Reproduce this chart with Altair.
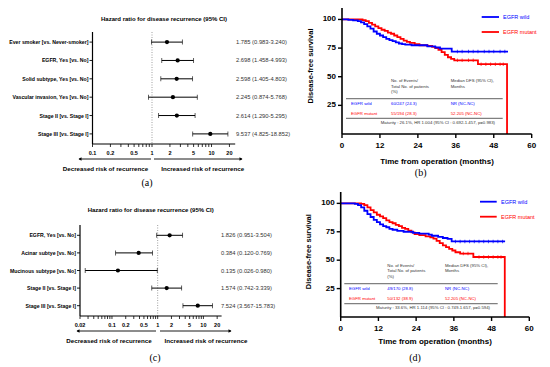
import altair as alt
import pandas as pd

W, H = 534, 359
FONT = "Liberation Sans"
BLUE = "#0000ff"
RED = "#ff0000"

# ---------------- data: forest plot (a) ----------------
a_labels = ["Ever smoker [vs. Never-smoker]", "EGFR, Yes [vs. No]", "Solid subtype, Yes [vs. No]",
            "Vascular invasion, Yes [vs. No]", "Stage II [vs. Stage I]", "Stage III [vs. Stage I]"]
a_hr = [1.785, 2.698, 2.598, 2.245, 2.614, 9.537]
a_lo = [0.983, 1.458, 1.405, 0.874, 1.290, 4.825]
a_hi = [3.240, 4.993, 4.803, 5.768, 5.295, 18.852]
a_ticks = [0.1, 0.2, 0.3, 0.4, 0.5, 0.6, 0.7, 0.8, 0.9, 1, 2, 3, 4, 5, 6, 7, 8, 9, 10, 20]
a_tick_labels = [0.1, 0.2, 0.5, 1, 2, 5, 10, 20]

# ---------------- data: forest plot (c) ----------------
c_labels = ["EGFR, Yes [vs. No]", "Acinar subtye [vs. No]", "Mucinous subtype [vs. No]",
            "Stage II [vs. Stage I]", "Stage III [vs. Stage I]"]
c_hr = [1.826, 0.384, 0.135, 1.574, 7.524]
c_lo = [0.951, 0.120, 0.026, 0.742, 3.567]
c_hi = [3.504, 0.769, 0.980, 3.339, 15.783]
c_ticks = [0.02, 0.03, 0.04, 0.05, 0.06, 0.07, 0.08, 0.09, 0.1, 0.2, 0.3, 0.4, 0.5, 0.6, 0.7, 0.8,
           0.9, 1, 2, 3, 4, 5, 6, 7, 8, 9, 10, 20]
c_tick_labels = [0.02, 0.1, 0.2, 0.5, 1, 2, 5, 10, 20]

# ---------------- data: KM (b) ----------------
b_wild_t = [0, 2, 3.5, 5, 6, 7, 8, 9, 10, 11, 12, 13, 14, 15, 16, 17, 18, 19, 20, 22, 27, 29.5, 31, 34.7, 52.5]
b_wild_s = [100, 99.6, 99.2, 98.5, 97.5, 96, 94, 92, 89.5, 87.5, 86, 84.5, 83, 82, 81, 80, 79, 78.5, 78,
            77.5, 76.5, 75.5, 74.5, 72, 72]
b_mut_t = [0, 6.5, 7.5, 8.5, 9.5, 10.5, 11.5, 12.5, 13.5, 14.5, 15.5, 16.5, 17.5, 18.5, 19.5, 20.5, 21.5,
           23, 24.5, 27, 28.5, 29.5, 30.5, 31.5, 32.5, 33.5, 34.5, 35.5, 43, 52.2, 52.2]
b_mut_s = [100, 99.5, 98.5, 97, 95.5, 94, 92.5, 91, 90, 88.5, 87.5, 86, 84.5, 83, 81.5, 80.5, 79.5, 78.5,
           77.5, 77, 76, 75, 73.5, 71.5, 69, 67, 65.5, 64.3, 61, 61, 0]
b_wild_cens_t = [36.5, 38, 40, 41.5, 43, 45, 46.5, 48, 50, 51.5]
b_wild_cens_s = [72, 72, 72, 72, 72, 72, 72, 72, 72, 72]
b_mut_cens_t = [36.5, 38, 40, 41.5, 44, 45.5, 47, 48.5, 50, 51]
b_mut_cens_s = [64.3, 64.3, 64.3, 64.3, 61, 61, 61, 61, 61, 61]
b_rows = [["EGFR wild", "60/247 (24.3)", "NR (NC-NC)"],
          ["EGFR mutant", "55/194 (28.3)", "52.205 (NC-NC)"]]
b_maturity = "Maturity : 26.1%, HR 1.004 (95% CI : 0.692-1.457, p=0.983)"

# ---------------- data: KM (d) ----------------
d_wild_t = [0, 4.5, 5.5, 6.5, 7.5, 8.5, 9.5, 10.5, 11.5, 12.5, 13.5, 14.5, 15.5, 16.5, 18, 20, 23, 25, 28,
            29, 31, 32.5, 34, 35.3, 52.3]
d_wild_s = [100, 99.5, 98.5, 96.5, 93.5, 90.5, 88, 85.5, 83.5, 81.5, 80, 79, 77.5, 76.8, 75.8, 75, 74, 73.3,
            72.5, 71.5, 70.5, 69.5, 68.8, 66.5, 66.5]
d_mut_t = [0, 6.5, 7.5, 8.5, 9.5, 10.5, 11.5, 12.5, 13.5, 14.5, 15.5, 16.5, 17.5, 18.5, 19.5, 20.5, 21.5,
           22.5, 23.5, 25, 27, 28.5, 29.5, 30.5, 31.5, 32.5, 33.5, 34.5, 35.5, 36.5, 38, 42.2, 52.2, 52.2]
d_mut_s = [100, 99.5, 98.5, 96.5, 94, 92, 90, 88.5, 87, 85, 83.5, 82.5, 81, 80, 78.5, 77.5, 76, 74.5, 73,
           72, 71, 70, 69, 67, 65, 63, 61.5, 60, 58.5, 57, 55.8, 52.8, 52.8, 0]
d_wild_cens_t = [36.5, 38, 39.5, 41, 42.5, 44, 45.5, 47, 48.5, 50, 51.5]
d_wild_cens_s = [66.5] * 11
d_mut_cens_t = [39, 40.5, 44, 45.5, 47, 48.5, 50, 51]
d_mut_cens_s = [55.8, 55.8, 52.8, 52.8, 52.8, 52.8, 52.8, 52.8]
d_rows = [["EGFR wild", "49/170 (28.8)", "NR (NC-NC)"],
          ["EGFR mutant", "50/132 (38.9)", "52.205 (NC-NC)"]]
d_maturity = "Maturity : 33.6%, HR 1.114 (95% CI : 0.749-1.657, p=0.594)"

km_xticks = [0, 12, 24, 36, 48, 60]
km_yticks = [25, 50, 75, 100]

DUMMY = pd.DataFrame({"k": [0]})


def txt(text, x, y, size, weight="normal", color="black", align="center", font=FONT, baseline="middle", angle=0):
    return alt.Chart(DUMMY).mark_text(text=text, fontSize=size, fontWeight=weight, color=color, angle=angle,
                                      align=align, baseline=baseline, font=font).encode(
        x=alt.value(x), y=alt.value(y))


def hline(x1, x2, y, color="black", width=1.0):
    return alt.Chart(DUMMY).mark_rule(color=color, strokeWidth=width).encode(
        x=alt.value(x1), x2=alt.value(x2), y=alt.value(y))


def vline(x, y1, y2, color="black", width=1.0):
    return alt.Chart(DUMMY).mark_rule(color=color, strokeWidth=width).encode(
        x=alt.value(x), y=alt.value(y1), y2=alt.value(y2))


def arrow_head(x, y, shape):
    return alt.Chart(DUMMY).mark_point(shape=shape, filled=True, size=12, color="black", opacity=1).encode(
        x=alt.value(x), y=alt.value(y))


def forest(labels, hr, lo, hi, ticks, tick_labels, xdom, xrng, yrng, ypad, ax_y, val_x, title, title_xy,
           arr_y, arr_l, arr_r, dec_xy, inc_xy, tag, tag_xy, lab_size):
    df = pd.DataFrame({"label": labels, "hr": hr, "lo": lo, "hi": hi,
                       "txt": [f"{h:.3f} ({l:.3f}-{u:.3f})" for h, l, u in zip(hr, lo, hi)]})
    xs = alt.Scale(type="log", domain=xdom, range=xrng, nice=False)
    ys = alt.Scale(type="point", range=yrng, padding=ypad)
    ysort = alt.Y("label:N", sort=labels, scale=ys, axis=None)
    base = alt.Chart(df)
    ci = base.mark_rule(color="black", strokeWidth=1.0).encode(
        x=alt.X("lo:Q", scale=xs, axis=None), x2="hi:Q", y=ysort)
    cap_lo = base.mark_tick(orient="vertical", size=5, thickness=0.9, color="black").encode(
        x=alt.X("lo:Q", scale=xs, axis=None), y=ysort)
    cap_hi = base.mark_tick(orient="vertical", size=5, thickness=0.9, color="black").encode(
        x=alt.X("hi:Q", scale=xs, axis=None), y=ysort)
    pts = base.mark_point(filled=True, size=18, color="black", opacity=1).encode(
        x=alt.X("hr:Q", scale=xs, axis=None), y=ysort)
    vals = base.mark_text(align="left", baseline="middle", fontSize=5.8, color="#333", font=FONT).encode(
        x=alt.value(val_x), y=ysort, text="txt:N")
    ylabs = base.mark_text(align="right", baseline="middle", fontSize=lab_size, fontWeight="bold",
                           color="black", font=FONT).encode(x=alt.value(xrng[0] - 4), y=ysort, text="label:N")
    yticks = base.mark_rule(color="black", strokeWidth=0.9).encode(
        x=alt.value(xrng[0] - 3), x2=alt.value(xrng[0]), y=ysort)
    tdf = pd.DataFrame({"v": ticks})
    xticks = alt.Chart(tdf).mark_rule(color="black", strokeWidth=0.8).encode(
        x=alt.X("v:Q", scale=xs, axis=None), y=alt.value(ax_y), y2=alt.value(ax_y + 3))
    ldf = pd.DataFrame({"v": tick_labels, "t": [f"{v:g}" for v in tick_labels]})
    xlabs = alt.Chart(ldf).mark_text(fontSize=5.5, fontWeight="bold", color="black", font=FONT,
                                     baseline="middle").encode(
        x=alt.X("v:Q", scale=xs, axis=None), y=alt.value(ax_y + 9), text="t:N")
    ref = alt.Chart(DUMMY).mark_rule(color="#777", strokeWidth=0.7, strokeDash=[1, 1.5]).encode(
        x=alt.X(datum=1, type="quantitative", scale=xs, axis=None),
        y=alt.value(yrng[0]), y2=alt.value(ax_y))
    layers = [ref, ci, cap_lo, cap_hi, pts, vals, ylabs, yticks, xticks, xlabs,
              hline(xrng[0], xrng[1], ax_y, width=1.2), vline(xrng[0], yrng[0], ax_y, width=1.2),
              txt(title, title_xy[0], title_xy[1], 6.0, "bold"),
              hline(arr_l[0], arr_l[1], arr_y, width=0.9), hline(arr_r[0], arr_r[1], arr_y, width=0.9),
              arrow_head(arr_l[0] + 1, arr_y, "triangle-left"), arrow_head(arr_r[1] - 1, arr_y, "triangle-right"),
              txt("Decreased risk of recurrence", dec_xy[0], dec_xy[1], 6.2, "bold"),
              txt("Increased risk of recurrence", inc_xy[0], inc_xy[1], 6.2, "bold"),
              txt(tag, tag_xy[0], tag_xy[1], 10, font="Liberation Serif")]
    return alt.layer(*layers)


def km(wt, ws, mt, ms, wct, wcs, mct, mcs, xrng, yrng, xtitle, xtitle_xy, ytitle_xy, leg, table, rows,
       maturity, tag, tag_xy):
    xs = alt.Scale(domain=[0, 60], range=xrng, nice=False, zero=False)
    ys = alt.Scale(domain=[0, 110], range=yrng, nice=False, zero=False)
    ax_y, x0 = yrng[0], xrng[0]
    dw = pd.DataFrame({"t": wt, "s": ws, "i": list(range(len(wt)))})
    dm = pd.DataFrame({"t": mt, "s": ms, "i": list(range(len(mt)))})
    lw = alt.Chart(dw).mark_line(interpolate="step-after", color=BLUE, strokeWidth=1.8).encode(
        x=alt.X("t:Q", scale=xs, axis=None), y=alt.Y("s:Q", scale=ys, axis=None), order="i:Q")
    lm = alt.Chart(dm).mark_line(interpolate="step-after", color=RED, strokeWidth=1.8).encode(
        x=alt.X("t:Q", scale=xs, axis=None), y=alt.Y("s:Q", scale=ys, axis=None), order="i:Q")
    cw = alt.Chart(pd.DataFrame({"t": wct, "s": wcs})).mark_tick(
        orient="vertical", size=3.5, thickness=1, color=BLUE).encode(
        x=alt.X("t:Q", scale=xs, axis=None), y=alt.Y("s:Q", scale=ys, axis=None))
    cm = alt.Chart(pd.DataFrame({"t": mct, "s": mcs})).mark_tick(
        orient="vertical", size=3.5, thickness=1, color=RED).encode(
        x=alt.X("t:Q", scale=xs, axis=None), y=alt.Y("s:Q", scale=ys, axis=None))
    xt = pd.DataFrame({"v": km_xticks, "t": [str(v) for v in km_xticks]})
    yt = pd.DataFrame({"v": km_yticks, "t": [str(v) for v in km_yticks]})
    xticks = alt.Chart(xt).mark_rule(color="black", strokeWidth=1.4).encode(
        x=alt.X("v:Q", scale=xs, axis=None), y=alt.value(ax_y), y2=alt.value(ax_y + 4))
    xlabs = alt.Chart(xt).mark_text(fontSize=8, fontWeight="bold", color="black", font=FONT,
                                    baseline="middle").encode(
        x=alt.X("v:Q", scale=xs, axis=None), y=alt.value(ax_y + 12), text="t:N")
    yticks = alt.Chart(yt).mark_rule(color="black", strokeWidth=1.4).encode(
        y=alt.Y("v:Q", scale=ys, axis=None), x=alt.value(x0 - 4), x2=alt.value(x0))
    ylabs = alt.Chart(yt).mark_text(fontSize=8, fontWeight="bold", color="black", font=FONT,
                                    baseline="middle", align="right").encode(
        y=alt.Y("v:Q", scale=ys, axis=None), x=alt.value(x0 - 6), text="t:N")
    lx1, lx2, ltx, ly1, ly2 = leg
    c1, c2, c3, hy, l1, l2, r1, r2, my, mx, lxa, lxb = table
    layers = [lm, lw, cw, cm, xticks, xlabs, yticks, ylabs,
              hline(xrng[0], xrng[1], ax_y, width=1.6), vline(x0, yrng[1], ax_y, width=1.6),
              txt(xtitle, xtitle_xy[0], xtitle_xy[1], 8, "bold"),
              txt("Disease-free survival", ytitle_xy[0], ytitle_xy[1], 7.5, "bold", angle=270),
              hline(lx1, lx2, ly1, BLUE, 1.8), txt("EGFR wild", ltx, ly1, 5.5, color=BLUE, align="left"),
              hline(lx1, lx2, ly2, RED, 1.8), txt("EGFR mutant", ltx, ly2, 5.5, color=RED, align="left"),
              txt("No. of Events/", c2, hy, 4.3, color="#333", align="left"),
              txt("Total No. of patients", c2, hy + 5.5, 4.3, color="#333", align="left"),
              txt("(%)", c2, hy + 11, 4.3, color="#333", align="left"),
              txt("Median DFS (95% CI),", c3, hy, 4.3, color="#333", align="left"),
              txt("Months", c3, hy + 5.5, 4.3, color="#333", align="left"),
              hline(lxa, lxb, l1, "#808080", 1.3), hline(lxa, lxb, l2, "#808080", 1.3),
              txt(maturity, mx, my, 4.3, color="#333", align="right")]
    for (a, b, c), yy, col in zip(rows, [r1, r2], [BLUE, RED]):
        layers += [txt(a, c1, yy, 4.3, color=col, align="left"),
                   txt(b, c2, yy, 4.3, color=col, align="left"),
                   txt(c, c3, yy, 4.3, color=col, align="left")]
    layers.append(txt(tag, tag_xy[0], tag_xy[1], 10, font="Liberation Serif"))
    return alt.layer(*layers)


panel_a = forest(a_labels, a_hr, a_lo, a_hi, a_ticks, a_tick_labels, [0.1, 25], [84.5, 227.2], [24, 136],
                 0.55, 136, 228, "Hazard ratio for disease recurrence (95% CI)", (156, 11),
                 151, (71, 143), (146, 234), (97.5, 160.7), (194.7, 160.7), "(a)", (139, 175), 5.2)
panel_c = forest(c_labels, c_hr, c_lo, c_hi, c_ticks, c_tick_labels, [0.02, 25], [72, 213.6], [217, 308],
                 0.585, 308, 213, "Hazard ratio for disease recurrence (95% CI)", (142.7, 202),
                 323, (69, 148), (152, 223), (101, 332.7), (198, 332.7), "(c)", (147, 350), 5.2)
panel_b = km(b_wild_t, b_wild_s, b_mut_t, b_mut_s, b_wild_cens_t, b_wild_cens_s, b_mut_cens_t, b_mut_cens_s,
             [334, 523.7], [126, 0], "Time from operation  (months)", (429, 154), (303, 58),
             (473.7, 491, 495, 9, 24),
             (343, 383, 442.7, 73, 90.7, 110.3, 95.7, 105.7, 115.3, 487, 338, 494.7),
             b_rows, b_maturity, "(b)", (412.7, 165))
panel_d = km(d_wild_t, d_wild_s, d_mut_t, d_mut_s, d_wild_cens_t, d_wild_cens_s, d_mut_cens_t, d_mut_cens_s,
             [332.7, 521.3], [309, 184], "Time from operation (months)", (427, 333.7), (301.3, 243.7),
             (472, 488.7, 493, 193.7, 208.7),
             (341, 379.3, 437, 257.7, 275.7, 295.7, 280.7, 291, 299.7, 482, 336.3, 489.7),
             d_rows, d_maturity, "(d)", (407, 349.7))

chart = alt.layer(panel_a, panel_b, panel_c, panel_d).resolve_scale(
    x="independent", y="independent"
).properties(
    width=W, height=H, padding=0, autosize=alt.AutoSizeParams(type="none")
).configure_view(stroke=None).configure_text(font=FONT)

chart.save("out.html", embed_options={"renderer": "svg", "actions": False})
